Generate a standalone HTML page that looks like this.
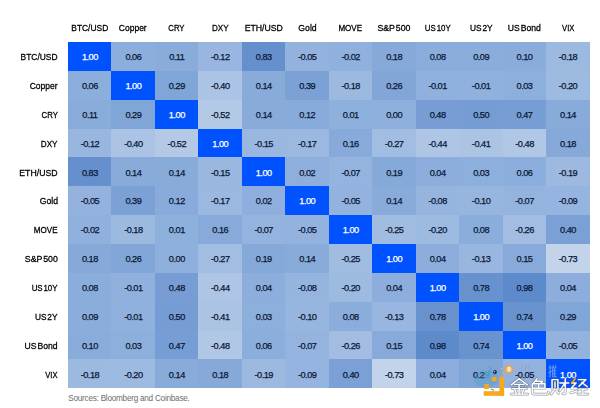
<!DOCTYPE html>
<html><head><meta charset="utf-8"><style>
html,body{margin:0;padding:0;background:#fff;}
body{width:600px;height:408px;position:relative;overflow:hidden;font-family:"Liberation Sans",sans-serif;}
.c{position:absolute;text-align:center;font-size:9.2px;color:#0a1836;letter-spacing:-0.5px;-webkit-text-stroke:0.25px #0a1836;padding-top:1.2px;box-sizing:border-box;}
.c.d{color:#fff;-webkit-text-stroke:0.25px #fff;}
.h{position:absolute;text-align:center;font-size:9px;color:#000;letter-spacing:0px;white-space:nowrap;-webkit-text-stroke:0.28px #000;}
.r{position:absolute;text-align:right;font-size:9px;color:#000;letter-spacing:0px;white-space:nowrap;left:0;width:58px;-webkit-text-stroke:0.28px #000;padding-top:1.2px;box-sizing:border-box;}
.s{position:absolute;left:68.3px;top:394px;line-height:10px;font-size:8.2px;color:#6e6e6e;letter-spacing:-0.25px;white-space:nowrap;}
</style></head><body>

<div class="h" style="left:68.00px;width:43.47px;top:22px;line-height:12px"><span style="display:inline-block;transform:scaleX(0.936);transform-origin:50% 50%;word-spacing:0px">BTC/USD</span></div>
<div class="h" style="left:111.47px;width:43.47px;top:22px;line-height:12px"><span style="display:inline-block;transform:scaleX(0.943);transform-origin:50% 50%;word-spacing:0px">Copper</span></div>
<div class="h" style="left:154.93px;width:43.47px;top:22px;line-height:12px"><span style="display:inline-block;transform:scaleX(0.863);transform-origin:50% 50%;word-spacing:0px">CRY</span></div>
<div class="h" style="left:198.40px;width:43.47px;top:22px;line-height:12px"><span style="display:inline-block;transform:scaleX(0.900);transform-origin:50% 50%;word-spacing:0px">DXY</span></div>
<div class="h" style="left:241.87px;width:43.47px;top:22px;line-height:12px"><span style="display:inline-block;transform:scaleX(0.967);transform-origin:50% 50%;word-spacing:0px">ETH/USD</span></div>
<div class="h" style="left:285.33px;width:43.47px;top:22px;line-height:12px"><span style="display:inline-block;transform:scaleX(0.963);transform-origin:50% 50%;word-spacing:0px">Gold</span></div>
<div class="h" style="left:328.80px;width:43.47px;top:22px;line-height:12px"><span style="display:inline-block;transform:scaleX(0.896);transform-origin:50% 50%;word-spacing:0px">MOVE</span></div>
<div class="h" style="left:372.27px;width:43.47px;top:22px;line-height:12px"><span style="display:inline-block;transform:scaleX(0.976);transform-origin:50% 50%;word-spacing:-1.5px">S&amp;P 500</span></div>
<div class="h" style="left:415.73px;width:43.47px;top:22px;line-height:12px"><span style="display:inline-block;transform:scaleX(0.877);transform-origin:50% 50%;word-spacing:-1.5px">US 10Y</span></div>
<div class="h" style="left:459.20px;width:43.47px;top:22px;line-height:12px"><span style="display:inline-block;transform:scaleX(0.923);transform-origin:50% 50%;word-spacing:-1.5px">US 2Y</span></div>
<div class="h" style="left:502.67px;width:43.47px;top:22px;line-height:12px"><span style="display:inline-block;transform:scaleX(0.955);transform-origin:50% 50%;word-spacing:-1.5px">US Bond</span></div>
<div class="h" style="left:546.13px;width:43.47px;top:22px;line-height:12px"><span style="display:inline-block;transform:scaleX(0.847);transform-origin:50% 50%;word-spacing:0px">VIX</span></div>
<div class="r" style="top:42.00px;height:28.85px;line-height:28.85px"><span style="display:inline-block;transform:scaleX(0.936);transform-origin:100% 50%;word-spacing:0px">BTC/USD</span></div>
<div class="r" style="top:70.85px;height:28.85px;line-height:28.85px"><span style="display:inline-block;transform:scaleX(0.943);transform-origin:100% 50%;word-spacing:0px">Copper</span></div>
<div class="r" style="top:99.70px;height:28.85px;line-height:28.85px"><span style="display:inline-block;transform:scaleX(0.863);transform-origin:100% 50%;word-spacing:0px">CRY</span></div>
<div class="r" style="top:128.55px;height:28.85px;line-height:28.85px"><span style="display:inline-block;transform:scaleX(0.900);transform-origin:100% 50%;word-spacing:0px">DXY</span></div>
<div class="r" style="top:157.40px;height:28.85px;line-height:28.85px"><span style="display:inline-block;transform:scaleX(0.967);transform-origin:100% 50%;word-spacing:0px">ETH/USD</span></div>
<div class="r" style="top:186.25px;height:28.85px;line-height:28.85px"><span style="display:inline-block;transform:scaleX(0.963);transform-origin:100% 50%;word-spacing:0px">Gold</span></div>
<div class="r" style="top:215.10px;height:28.85px;line-height:28.85px"><span style="display:inline-block;transform:scaleX(0.896);transform-origin:100% 50%;word-spacing:0px">MOVE</span></div>
<div class="r" style="top:243.95px;height:28.85px;line-height:28.85px"><span style="display:inline-block;transform:scaleX(0.976);transform-origin:100% 50%;word-spacing:-1.5px">S&amp;P 500</span></div>
<div class="r" style="top:272.80px;height:28.85px;line-height:28.85px"><span style="display:inline-block;transform:scaleX(0.877);transform-origin:100% 50%;word-spacing:-1.5px">US 10Y</span></div>
<div class="r" style="top:301.65px;height:28.85px;line-height:28.85px"><span style="display:inline-block;transform:scaleX(0.923);transform-origin:100% 50%;word-spacing:-1.5px">US 2Y</span></div>
<div class="r" style="top:330.50px;height:28.85px;line-height:28.85px"><span style="display:inline-block;transform:scaleX(0.955);transform-origin:100% 50%;word-spacing:-1.5px">US Bond</span></div>
<div class="r" style="top:359.35px;height:28.85px;line-height:28.85px"><span style="display:inline-block;transform:scaleX(0.847);transform-origin:100% 50%;word-spacing:0px">VIX</span></div>
<div style="position:absolute;left:68px;top:42px;width:521.60px;height:346.20px;overflow:hidden">
<div class="c d" style="left:0.00px;top:0.00px;width:43.77px;height:29.15px;line-height:28.85px;background:#0052ff">1.00</div>
<div class="c" style="left:43.47px;top:0.00px;width:43.77px;height:29.15px;line-height:28.85px;background:#8caedc">0.06</div>
<div class="c" style="left:86.93px;top:0.00px;width:43.77px;height:29.15px;line-height:28.85px;background:#89acdb">0.11</div>
<div class="c" style="left:130.40px;top:0.00px;width:43.77px;height:29.15px;line-height:28.85px;background:#98b6df">-0.12</div>
<div class="c" style="left:173.87px;top:0.00px;width:43.77px;height:29.15px;line-height:28.85px;background:#6590cd">0.83</div>
<div class="c" style="left:217.33px;top:0.00px;width:43.77px;height:29.15px;line-height:28.85px;background:#93b2de">-0.05</div>
<div class="c" style="left:260.80px;top:0.00px;width:43.77px;height:29.15px;line-height:28.85px;background:#90b1dd">-0.02</div>
<div class="c" style="left:304.27px;top:0.00px;width:43.77px;height:29.15px;line-height:28.85px;background:#86a9da">0.18</div>
<div class="c" style="left:347.73px;top:0.00px;width:43.77px;height:29.15px;line-height:28.85px;background:#8baddb">0.08</div>
<div class="c" style="left:391.20px;top:0.00px;width:43.77px;height:29.15px;line-height:28.85px;background:#8aaddb">0.09</div>
<div class="c" style="left:434.67px;top:0.00px;width:43.77px;height:29.15px;line-height:28.85px;background:#8aacdb">0.10</div>
<div class="c" style="left:478.13px;top:0.00px;width:43.77px;height:29.15px;line-height:28.85px;background:#9cb9e0">-0.18</div>
<div class="c" style="left:0.00px;top:28.85px;width:43.77px;height:29.15px;line-height:28.85px;background:#8caedc">0.06</div>
<div class="c d" style="left:43.47px;top:28.85px;width:43.77px;height:29.15px;line-height:28.85px;background:#0052ff">1.00</div>
<div class="c" style="left:86.93px;top:28.85px;width:43.77px;height:29.15px;line-height:28.85px;background:#80a5d7">0.29</div>
<div class="c" style="left:130.40px;top:28.85px;width:43.77px;height:29.15px;line-height:28.85px;background:#abc3e4">-0.40</div>
<div class="c" style="left:173.87px;top:28.85px;width:43.77px;height:29.15px;line-height:28.85px;background:#88abda">0.14</div>
<div class="c" style="left:217.33px;top:28.85px;width:43.77px;height:29.15px;line-height:28.85px;background:#7ba1d5">0.39</div>
<div class="c" style="left:260.80px;top:28.85px;width:43.77px;height:29.15px;line-height:28.85px;background:#9cb9e0">-0.18</div>
<div class="c" style="left:304.27px;top:28.85px;width:43.77px;height:29.15px;line-height:28.85px;background:#82a6d8">0.26</div>
<div class="c" style="left:347.73px;top:28.85px;width:43.77px;height:29.15px;line-height:28.85px;background:#90b0dd">-0.01</div>
<div class="c" style="left:391.20px;top:28.85px;width:43.77px;height:29.15px;line-height:28.85px;background:#90b0dd">-0.01</div>
<div class="c" style="left:434.67px;top:28.85px;width:43.77px;height:29.15px;line-height:28.85px;background:#8dafdc">0.03</div>
<div class="c" style="left:478.13px;top:28.85px;width:43.77px;height:29.15px;line-height:28.85px;background:#9dbae1">-0.20</div>
<div class="c" style="left:0.00px;top:57.70px;width:43.77px;height:29.15px;line-height:28.85px;background:#89acdb">0.11</div>
<div class="c" style="left:43.47px;top:57.70px;width:43.77px;height:29.15px;line-height:28.85px;background:#80a5d7">0.29</div>
<div class="c d" style="left:86.93px;top:57.70px;width:43.77px;height:29.15px;line-height:28.85px;background:#0052ff">1.00</div>
<div class="c" style="left:130.40px;top:57.70px;width:43.77px;height:29.15px;line-height:28.85px;background:#b4c9e6">-0.52</div>
<div class="c" style="left:173.87px;top:57.70px;width:43.77px;height:29.15px;line-height:28.85px;background:#88abda">0.14</div>
<div class="c" style="left:217.33px;top:57.70px;width:43.77px;height:29.15px;line-height:28.85px;background:#89abdb">0.12</div>
<div class="c" style="left:260.80px;top:57.70px;width:43.77px;height:29.15px;line-height:28.85px;background:#8eb0dd">0.01</div>
<div class="c" style="left:304.27px;top:57.70px;width:43.77px;height:29.15px;line-height:28.85px;background:#8fb0dd">0.00</div>
<div class="c" style="left:347.73px;top:57.70px;width:43.77px;height:29.15px;line-height:28.85px;background:#779dd4">0.48</div>
<div class="c" style="left:391.20px;top:57.70px;width:43.77px;height:29.15px;line-height:28.85px;background:#759dd3">0.50</div>
<div class="c" style="left:434.67px;top:57.70px;width:43.77px;height:29.15px;line-height:28.85px;background:#779ed4">0.47</div>
<div class="c" style="left:478.13px;top:57.70px;width:43.77px;height:29.15px;line-height:28.85px;background:#88abda">0.14</div>
<div class="c" style="left:0.00px;top:86.55px;width:43.77px;height:29.15px;line-height:28.85px;background:#98b6df">-0.12</div>
<div class="c" style="left:43.47px;top:86.55px;width:43.77px;height:29.15px;line-height:28.85px;background:#abc3e4">-0.40</div>
<div class="c" style="left:86.93px;top:86.55px;width:43.77px;height:29.15px;line-height:28.85px;background:#b4c9e6">-0.52</div>
<div class="c d" style="left:130.40px;top:86.55px;width:43.77px;height:29.15px;line-height:28.85px;background:#0052ff">1.00</div>
<div class="c" style="left:173.87px;top:86.55px;width:43.77px;height:29.15px;line-height:28.85px;background:#9ab7e0">-0.15</div>
<div class="c" style="left:217.33px;top:86.55px;width:43.77px;height:29.15px;line-height:28.85px;background:#9bb8e0">-0.17</div>
<div class="c" style="left:260.80px;top:86.55px;width:43.77px;height:29.15px;line-height:28.85px;background:#87aada">0.16</div>
<div class="c" style="left:304.27px;top:86.55px;width:43.77px;height:29.15px;line-height:28.85px;background:#a2bde2">-0.27</div>
<div class="c" style="left:347.73px;top:86.55px;width:43.77px;height:29.15px;line-height:28.85px;background:#aec5e5">-0.44</div>
<div class="c" style="left:391.20px;top:86.55px;width:43.77px;height:29.15px;line-height:28.85px;background:#acc4e4">-0.41</div>
<div class="c" style="left:434.67px;top:86.55px;width:43.77px;height:29.15px;line-height:28.85px;background:#b1c7e6">-0.48</div>
<div class="c" style="left:478.13px;top:86.55px;width:43.77px;height:29.15px;line-height:28.85px;background:#86a9da">0.18</div>
<div class="c" style="left:0.00px;top:115.40px;width:43.77px;height:29.15px;line-height:28.85px;background:#6590cd">0.83</div>
<div class="c" style="left:43.47px;top:115.40px;width:43.77px;height:29.15px;line-height:28.85px;background:#88abda">0.14</div>
<div class="c" style="left:86.93px;top:115.40px;width:43.77px;height:29.15px;line-height:28.85px;background:#88abda">0.14</div>
<div class="c" style="left:130.40px;top:115.40px;width:43.77px;height:29.15px;line-height:28.85px;background:#9ab7e0">-0.15</div>
<div class="c d" style="left:173.87px;top:115.40px;width:43.77px;height:29.15px;line-height:28.85px;background:#0052ff">1.00</div>
<div class="c" style="left:217.33px;top:115.40px;width:43.77px;height:29.15px;line-height:28.85px;background:#8eafdd">0.02</div>
<div class="c" style="left:260.80px;top:115.40px;width:43.77px;height:29.15px;line-height:28.85px;background:#94b3de">-0.07</div>
<div class="c" style="left:304.27px;top:115.40px;width:43.77px;height:29.15px;line-height:28.85px;background:#85a9d9">0.19</div>
<div class="c" style="left:347.73px;top:115.40px;width:43.77px;height:29.15px;line-height:28.85px;background:#8daedc">0.04</div>
<div class="c" style="left:391.20px;top:115.40px;width:43.77px;height:29.15px;line-height:28.85px;background:#8dafdc">0.03</div>
<div class="c" style="left:434.67px;top:115.40px;width:43.77px;height:29.15px;line-height:28.85px;background:#8caedc">0.06</div>
<div class="c" style="left:478.13px;top:115.40px;width:43.77px;height:29.15px;line-height:28.85px;background:#9db9e0">-0.19</div>
<div class="c" style="left:0.00px;top:144.25px;width:43.77px;height:29.15px;line-height:28.85px;background:#93b2de">-0.05</div>
<div class="c" style="left:43.47px;top:144.25px;width:43.77px;height:29.15px;line-height:28.85px;background:#7ba1d5">0.39</div>
<div class="c" style="left:86.93px;top:144.25px;width:43.77px;height:29.15px;line-height:28.85px;background:#89abdb">0.12</div>
<div class="c" style="left:130.40px;top:144.25px;width:43.77px;height:29.15px;line-height:28.85px;background:#9bb8e0">-0.17</div>
<div class="c" style="left:173.87px;top:144.25px;width:43.77px;height:29.15px;line-height:28.85px;background:#8eafdd">0.02</div>
<div class="c d" style="left:217.33px;top:144.25px;width:43.77px;height:29.15px;line-height:28.85px;background:#0052ff">1.00</div>
<div class="c" style="left:260.80px;top:144.25px;width:43.77px;height:29.15px;line-height:28.85px;background:#93b2de">-0.05</div>
<div class="c" style="left:304.27px;top:144.25px;width:43.77px;height:29.15px;line-height:28.85px;background:#88abda">0.14</div>
<div class="c" style="left:347.73px;top:144.25px;width:43.77px;height:29.15px;line-height:28.85px;background:#95b4de">-0.08</div>
<div class="c" style="left:391.20px;top:144.25px;width:43.77px;height:29.15px;line-height:28.85px;background:#96b5df">-0.10</div>
<div class="c" style="left:434.67px;top:144.25px;width:43.77px;height:29.15px;line-height:28.85px;background:#94b3de">-0.07</div>
<div class="c" style="left:478.13px;top:144.25px;width:43.77px;height:29.15px;line-height:28.85px;background:#95b4df">-0.09</div>
<div class="c" style="left:0.00px;top:173.10px;width:43.77px;height:29.15px;line-height:28.85px;background:#90b1dd">-0.02</div>
<div class="c" style="left:43.47px;top:173.10px;width:43.77px;height:29.15px;line-height:28.85px;background:#9cb9e0">-0.18</div>
<div class="c" style="left:86.93px;top:173.10px;width:43.77px;height:29.15px;line-height:28.85px;background:#8eb0dd">0.01</div>
<div class="c" style="left:130.40px;top:173.10px;width:43.77px;height:29.15px;line-height:28.85px;background:#87aada">0.16</div>
<div class="c" style="left:173.87px;top:173.10px;width:43.77px;height:29.15px;line-height:28.85px;background:#94b3de">-0.07</div>
<div class="c" style="left:217.33px;top:173.10px;width:43.77px;height:29.15px;line-height:28.85px;background:#93b2de">-0.05</div>
<div class="c d" style="left:260.80px;top:173.10px;width:43.77px;height:29.15px;line-height:28.85px;background:#0052ff">1.00</div>
<div class="c" style="left:304.27px;top:173.10px;width:43.77px;height:29.15px;line-height:28.85px;background:#a1bce1">-0.25</div>
<div class="c" style="left:347.73px;top:173.10px;width:43.77px;height:29.15px;line-height:28.85px;background:#9dbae1">-0.20</div>
<div class="c" style="left:391.20px;top:173.10px;width:43.77px;height:29.15px;line-height:28.85px;background:#8baddb">0.08</div>
<div class="c" style="left:434.67px;top:173.10px;width:43.77px;height:29.15px;line-height:28.85px;background:#a2bce2">-0.26</div>
<div class="c" style="left:478.13px;top:173.10px;width:43.77px;height:29.15px;line-height:28.85px;background:#7ba0d5">0.40</div>
<div class="c" style="left:0.00px;top:201.95px;width:43.77px;height:29.15px;line-height:28.85px;background:#86a9da">0.18</div>
<div class="c" style="left:43.47px;top:201.95px;width:43.77px;height:29.15px;line-height:28.85px;background:#82a6d8">0.26</div>
<div class="c" style="left:86.93px;top:201.95px;width:43.77px;height:29.15px;line-height:28.85px;background:#8fb0dd">0.00</div>
<div class="c" style="left:130.40px;top:201.95px;width:43.77px;height:29.15px;line-height:28.85px;background:#a2bde2">-0.27</div>
<div class="c" style="left:173.87px;top:201.95px;width:43.77px;height:29.15px;line-height:28.85px;background:#85a9d9">0.19</div>
<div class="c" style="left:217.33px;top:201.95px;width:43.77px;height:29.15px;line-height:28.85px;background:#88abda">0.14</div>
<div class="c" style="left:260.80px;top:201.95px;width:43.77px;height:29.15px;line-height:28.85px;background:#a1bce1">-0.25</div>
<div class="c d" style="left:304.27px;top:201.95px;width:43.77px;height:29.15px;line-height:28.85px;background:#0052ff">1.00</div>
<div class="c" style="left:347.73px;top:201.95px;width:43.77px;height:29.15px;line-height:28.85px;background:#8daedc">0.04</div>
<div class="c" style="left:391.20px;top:201.95px;width:43.77px;height:29.15px;line-height:28.85px;background:#98b6df">-0.13</div>
<div class="c" style="left:434.67px;top:201.95px;width:43.77px;height:29.15px;line-height:28.85px;background:#87aada">0.15</div>
<div class="c" style="left:478.13px;top:201.95px;width:43.77px;height:29.15px;line-height:28.85px;background:#c3d3ea">-0.73</div>
<div class="c" style="left:0.00px;top:230.80px;width:43.77px;height:29.15px;line-height:28.85px;background:#8baddb">0.08</div>
<div class="c" style="left:43.47px;top:230.80px;width:43.77px;height:29.15px;line-height:28.85px;background:#90b0dd">-0.01</div>
<div class="c" style="left:86.93px;top:230.80px;width:43.77px;height:29.15px;line-height:28.85px;background:#779dd4">0.48</div>
<div class="c" style="left:130.40px;top:230.80px;width:43.77px;height:29.15px;line-height:28.85px;background:#aec5e5">-0.44</div>
<div class="c" style="left:173.87px;top:230.80px;width:43.77px;height:29.15px;line-height:28.85px;background:#8daedc">0.04</div>
<div class="c" style="left:217.33px;top:230.80px;width:43.77px;height:29.15px;line-height:28.85px;background:#95b4de">-0.08</div>
<div class="c" style="left:260.80px;top:230.80px;width:43.77px;height:29.15px;line-height:28.85px;background:#9dbae1">-0.20</div>
<div class="c" style="left:304.27px;top:230.80px;width:43.77px;height:29.15px;line-height:28.85px;background:#8daedc">0.04</div>
<div class="c d" style="left:347.73px;top:230.80px;width:43.77px;height:29.15px;line-height:28.85px;background:#0052ff">1.00</div>
<div class="c" style="left:391.20px;top:230.80px;width:43.77px;height:29.15px;line-height:28.85px;background:#6792ce">0.78</div>
<div class="c" style="left:434.67px;top:230.80px;width:43.77px;height:29.15px;line-height:28.85px;background:#5d8aca">0.98</div>
<div class="c" style="left:478.13px;top:230.80px;width:43.77px;height:29.15px;line-height:28.85px;background:#8daedc">0.04</div>
<div class="c" style="left:0.00px;top:259.65px;width:43.77px;height:29.15px;line-height:28.85px;background:#8aaddb">0.09</div>
<div class="c" style="left:43.47px;top:259.65px;width:43.77px;height:29.15px;line-height:28.85px;background:#90b0dd">-0.01</div>
<div class="c" style="left:86.93px;top:259.65px;width:43.77px;height:29.15px;line-height:28.85px;background:#759dd3">0.50</div>
<div class="c" style="left:130.40px;top:259.65px;width:43.77px;height:29.15px;line-height:28.85px;background:#acc4e4">-0.41</div>
<div class="c" style="left:173.87px;top:259.65px;width:43.77px;height:29.15px;line-height:28.85px;background:#8dafdc">0.03</div>
<div class="c" style="left:217.33px;top:259.65px;width:43.77px;height:29.15px;line-height:28.85px;background:#96b5df">-0.10</div>
<div class="c" style="left:260.80px;top:259.65px;width:43.77px;height:29.15px;line-height:28.85px;background:#8baddb">0.08</div>
<div class="c" style="left:304.27px;top:259.65px;width:43.77px;height:29.15px;line-height:28.85px;background:#98b6df">-0.13</div>
<div class="c" style="left:347.73px;top:259.65px;width:43.77px;height:29.15px;line-height:28.85px;background:#6792ce">0.78</div>
<div class="c d" style="left:391.20px;top:259.65px;width:43.77px;height:29.15px;line-height:28.85px;background:#0052ff">1.00</div>
<div class="c" style="left:434.67px;top:259.65px;width:43.77px;height:29.15px;line-height:28.85px;background:#6993cf">0.74</div>
<div class="c" style="left:478.13px;top:259.65px;width:43.77px;height:29.15px;line-height:28.85px;background:#80a5d7">0.29</div>
<div class="c" style="left:0.00px;top:288.50px;width:43.77px;height:29.15px;line-height:28.85px;background:#8aacdb">0.10</div>
<div class="c" style="left:43.47px;top:288.50px;width:43.77px;height:29.15px;line-height:28.85px;background:#8dafdc">0.03</div>
<div class="c" style="left:86.93px;top:288.50px;width:43.77px;height:29.15px;line-height:28.85px;background:#779ed4">0.47</div>
<div class="c" style="left:130.40px;top:288.50px;width:43.77px;height:29.15px;line-height:28.85px;background:#b1c7e6">-0.48</div>
<div class="c" style="left:173.87px;top:288.50px;width:43.77px;height:29.15px;line-height:28.85px;background:#8caedc">0.06</div>
<div class="c" style="left:217.33px;top:288.50px;width:43.77px;height:29.15px;line-height:28.85px;background:#94b3de">-0.07</div>
<div class="c" style="left:260.80px;top:288.50px;width:43.77px;height:29.15px;line-height:28.85px;background:#a2bce2">-0.26</div>
<div class="c" style="left:304.27px;top:288.50px;width:43.77px;height:29.15px;line-height:28.85px;background:#87aada">0.15</div>
<div class="c" style="left:347.73px;top:288.50px;width:43.77px;height:29.15px;line-height:28.85px;background:#5d8aca">0.98</div>
<div class="c" style="left:391.20px;top:288.50px;width:43.77px;height:29.15px;line-height:28.85px;background:#6993cf">0.74</div>
<div class="c d" style="left:434.67px;top:288.50px;width:43.77px;height:29.15px;line-height:28.85px;background:#0052ff">1.00</div>
<div class="c" style="left:478.13px;top:288.50px;width:43.77px;height:29.15px;line-height:28.85px;background:#93b2de">-0.05</div>
<div class="c" style="left:0.00px;top:317.35px;width:43.77px;height:29.15px;line-height:28.85px;background:#9cb9e0">-0.18</div>
<div class="c" style="left:43.47px;top:317.35px;width:43.77px;height:29.15px;line-height:28.85px;background:#9dbae1">-0.20</div>
<div class="c" style="left:86.93px;top:317.35px;width:43.77px;height:29.15px;line-height:28.85px;background:#88abda">0.14</div>
<div class="c" style="left:130.40px;top:317.35px;width:43.77px;height:29.15px;line-height:28.85px;background:#86a9da">0.18</div>
<div class="c" style="left:173.87px;top:317.35px;width:43.77px;height:29.15px;line-height:28.85px;background:#9db9e0">-0.19</div>
<div class="c" style="left:217.33px;top:317.35px;width:43.77px;height:29.15px;line-height:28.85px;background:#95b4df">-0.09</div>
<div class="c" style="left:260.80px;top:317.35px;width:43.77px;height:29.15px;line-height:28.85px;background:#7ba0d5">0.40</div>
<div class="c" style="left:304.27px;top:317.35px;width:43.77px;height:29.15px;line-height:28.85px;background:#c3d3ea">-0.73</div>
<div class="c" style="left:347.73px;top:317.35px;width:43.77px;height:29.15px;line-height:28.85px;background:#8daedc">0.04</div>
<div class="c" style="left:391.20px;top:317.35px;width:43.77px;height:29.15px;line-height:28.85px;background:#80a5d7">0.2<span style="color:#4f93ba;-webkit-text-stroke:0.15px #4f93ba">9</span></div>
<div class="c" style="left:434.67px;top:317.35px;width:43.77px;height:29.15px;line-height:28.85px;background:#93b2de">-0.05</div>
<div class="c d" style="left:478.13px;top:317.35px;width:43.77px;height:29.15px;line-height:28.85px;background:#0052ff">1.00</div>
</div>
<div class="s">Sources: Bloomberg and Coinbase.</div>
<svg style="position:absolute;left:0;top:0" width="600" height="408" viewBox="0 0 600 408">
<defs><filter id="bl" x="-5%" y="-20%" width="110%" height="140%"><feGaussianBlur stdDeviation="0.35"/></filter>
<g id="g1"><path d="M8.5,0.6 L0.4,7 M8.5,0.6 L17,7 M4,6.5 H13.5 M1.5,11 H16 M8.5,6.5 V16.5 M4.2,12.5 L5.5,15.5 M13,12.5 L11.8,15.5 M0.5,16.8 H17.3"/></g>
<g id="g2"><path d="M6,0.5 L2,5.5 M4.5,3.2 H11.5 L9.5,5.8 M1,5.8 H14 V10.6 H1 Z M7.5,5.8 V10.6 M1,10.6 V15 Q1,16.8 3,16.8 H16.5 Q17.5,16.8 17.5,14.5"/></g>
<g id="g3"><path d="M1.5,1.5 H7.5 V11.5 M1.5,1.5 V11.5 M4.5,4 V9.5 M4,11.5 L0.5,16.8 M5.5,12 L8,16 M9.5,5 H18.5 M15,0.5 V15 Q15,17 12.5,16.5 M14.5,5.5 L9.5,13"/></g>
<g id="g4"><path d="M1.5,5 H6 L1,10.5 H6.5 M0.5,15.5 L7,13.5 M8.5,1.5 H16 L9,8.5 M12,4.5 L17.5,9 M9,11.5 H17 M13,11.5 V16.8 M8,16.8 H18"/></g>
<g id="g5"><path d="M1,3 H4 M2.5,0.5 V11 Q2.5,12 1.5,11.5 M0.8,8 L4,6.5 M6,0.5 L4.5,4 M5,3 V12 M5,3 H9 M5,6 H8.5 M5,9 H8.5 M5,12 H9.2 M7,3 V12 M7.5,0.5 L8,2"/></g>
</defs>
<!-- teal blob -->
<ellipse cx="486" cy="379" rx="12" ry="8.5" fill="#3fa0c0" opacity="0.3"/>
<path d="M488.5,366.5 q2.5,0.2 2.2,2.6 q-0.3,2 -2.4,2.4 M490.6,369 l-1.2,4.5" fill="none" stroke="#4f9fc4" stroke-width="1.1" opacity="0.9"/>
<!-- dark dot -->
<circle cx="495" cy="372" r="1.9" fill="#1a2a55"/>
<circle cx="494.6" cy="371.6" r="0.6" fill="#dfe6f5"/>
<!-- sparkles -->
<path d="M500.5,369.5 l2,-1.2 M502,373.5 l1.6,-1.2" stroke="#c9c36a" stroke-width="1.1" fill="none"/>
<!-- coin -->
<circle cx="509" cy="369.3" r="4.4" fill="#e2a257"/>
<circle cx="509" cy="369.3" r="3.1" fill="#eeb673"/>
<path d="M508.2,367.2 V371.4 M508.2,367.4 H509.4 Q510.4,367.6 510.3,368.4 Q510.2,369.2 509.3,369.3 H508.2 M509.3,369.3 Q510.6,369.5 510.5,370.4 Q510.4,371.3 509.4,371.3 H508.2" stroke="#fff" stroke-width="0.8" fill="none"/>
<!-- icon -->
<g fill="#f7a81b">
<rect x="499.4" y="376.7" width="4.7" height="19.1"/>
<rect x="483.7" y="391.2" width="20.4" height="4.6"/>
<rect x="491.8" y="376.9" width="4.7" height="4.3"/>
<rect x="484.2" y="384" width="4.9" height="5"/>
</g>
<path d="M490.8,389.6 q1,-1.2 1.6,0 t1.8,0.3" stroke="#222" stroke-width="0.7" fill="none"/>
<!-- faint upper chars -->
<g transform="translate(547.6,364.8)" fill="none" stroke="#a9bff2" stroke-width="1.1" opacity="0.6"><use href="#g5"/></g>
<g fill="none" stroke="#7f95bd" stroke-width="1" opacity="0.35"><path d="M522,364.5 V372 M525.5,364.5 V372 M525.5,367.5 L529.5,366 M529,364.5 V371 Q529,372 531,372"/></g>
<!-- main text shadow -->
<g fill="none" stroke="#565e70" stroke-opacity="0.62" stroke-width="2.8" filter="url(#bl)" stroke-linecap="round" stroke-linejoin="round">
<g transform="translate(510.8,378.2) scale(0.975,0.95)"><use href="#g1"/></g>
<g transform="translate(531.3,378.2) scale(0.975,0.95)"><use href="#g2"/></g>
<g transform="translate(550.6,378.2) scale(0.975,0.95)"><use href="#g3"/></g>
<g transform="translate(570.2,378.2) scale(0.975,0.95)"><use href="#g4"/><path d="M5,0.5 L1.5,5"/></g>
</g>
<g fill="none" stroke="#ffffff" stroke-width="1.5" stroke-linecap="round" stroke-linejoin="round">
<g transform="translate(510.8,378.2) scale(0.975,0.95)"><use href="#g1"/></g>
<g transform="translate(531.3,378.2) scale(0.975,0.95)"><use href="#g2"/></g>
<g transform="translate(550.6,378.2) scale(0.975,0.95)"><use href="#g3"/></g>
<g transform="translate(570.2,378.2) scale(0.975,0.95)"><use href="#g4"/></g>
</g>
<path d="M575.1,378.7 L571.7,382.9" stroke="#f7a81b" stroke-width="1.5" stroke-linecap="round" fill="none"/>
</svg>

</body></html>
